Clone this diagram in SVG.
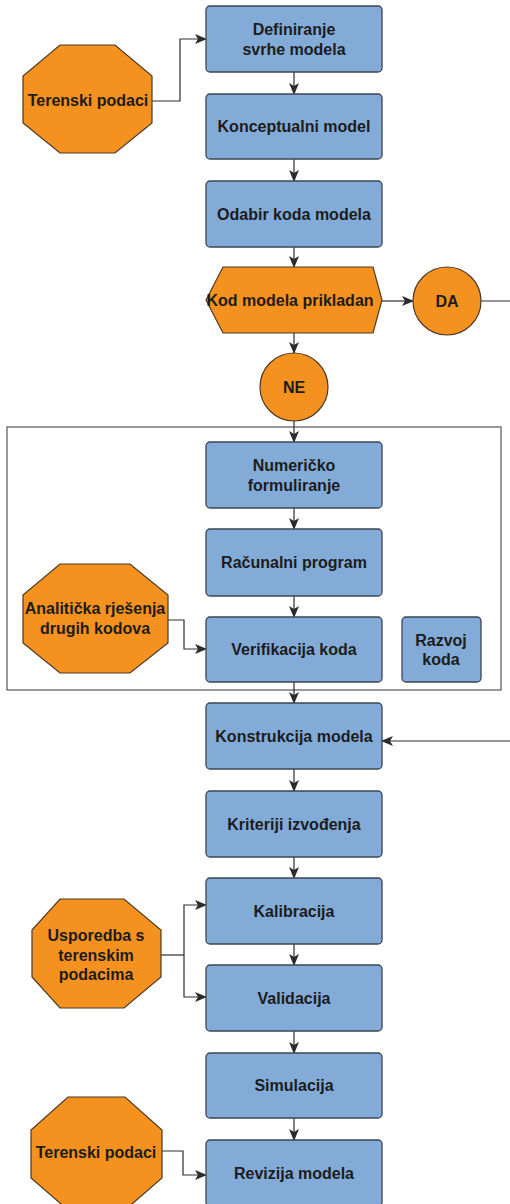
<svg xmlns="http://www.w3.org/2000/svg" width="510" height="1204" viewBox="0 0 510 1204">
<defs>
<marker id="arr" viewBox="0 0 12 10" refX="11" refY="5" markerWidth="12" markerHeight="10" markerUnits="userSpaceOnUse" orient="auto">
<path d="M0,0 L12,5 L0,10 L3,5 Z" fill="#2b2b2b"/>
</marker>
<style>
.box{fill:#83abd8;stroke:#3c4654;stroke-width:1.3}
.org{fill:#f5911e;stroke:#4a3a28;stroke-width:1.2}
.t{font-family:"Liberation Sans",Arial,sans-serif;font-weight:bold;font-size:16px;fill:#1c1c1c;text-anchor:middle}
.c{fill:none;stroke:#2e2e2e;stroke-width:1.2}
.ca{fill:none;stroke:#2e2e2e;stroke-width:1.2;marker-end:url(#arr)}
</style>
</defs>
<rect width="510" height="1204" fill="#ffffff"/>

<g id="container"><rect x="7" y="427" width="494" height="263" fill="none" stroke="#555" stroke-width="1.2"/></g>

<g id="connectors">
<path class="ca" d="M152,101 H180 V39 H206"/>
<path class="ca" d="M294,72 V94"/>
<path class="ca" d="M294,159 V181"/>
<path class="ca" d="M294,247 V267"/>
<path class="ca" d="M382,301 H413"/>
<path class="ca" d="M294,333 V353"/>
<path class="ca" d="M481,301 H516 V741 H382"/>
<path class="ca" d="M294,421 V442"/>
<path class="ca" d="M294,508 V529"/>
<path class="ca" d="M294,596 V617"/>
<path class="ca" d="M168,620 H184 V649 H206"/>
<path class="ca" d="M294,682 V703"/>
<path class="ca" d="M294,769 V791"/>
<path class="ca" d="M294,857 V878"/>
<path class="c" d="M161,955 H184"/>
<path class="ca" d="M184,955 V905 H206"/>
<path class="ca" d="M184,955 V997 H206"/>
<path class="ca" d="M294,944 V965"/>
<path class="ca" d="M294,1031 V1053"/>
<path class="ca" d="M294,1118 V1140"/>
<path class="ca" d="M162,1151 H183 V1175 H206"/>
</g>

<g id="n-teren1"><polygon class="org" points="60,45 115,45 152,76 152,123 115,153 60,153 23,123 23,76"/><text class="t" x="88" y="106">Terenski podaci</text></g>
<g id="n-def"><rect class="box" x="206" y="6" width="176" height="66" rx="4"/><text class="t" x="294" y="35">Definiranje</text><text class="t" x="294" y="55">svrhe modela</text></g>
<g id="n-konc"><rect class="box" x="206" y="94" width="176" height="65" rx="4"/><text class="t" x="294" y="132">Konceptualni model</text></g>
<g id="n-odabir"><rect class="box" x="206" y="181" width="176" height="66" rx="4"/><text class="t" x="294" y="220">Odabir koda modela</text></g>
<g id="n-kod"><polygon class="org" points="223,267 373,267 382,300 373,333 223,333 206,300"/><text class="t" x="290" y="306">Kod modela prikladan</text></g>
<g id="n-da"><circle class="org" cx="447" cy="301" r="34"/><text class="t" x="447" y="307">DA</text></g>
<g id="n-ne"><circle class="org" cx="294" cy="387" r="34"/><text class="t" x="294" y="393">NE</text></g>
<g id="n-num"><rect class="box" x="206" y="442" width="176" height="66" rx="4"/><text class="t" x="294" y="471">Numeričko</text><text class="t" x="294" y="491">formuliranje</text></g>
<g id="n-rac"><rect class="box" x="206" y="529" width="176" height="67" rx="4"/><text class="t" x="294" y="568">Računalni program</text></g>
<g id="n-anal"><polygon class="org" points="60,564 130,564 168,595 168,643 130,673 60,673 23,643 23,595"/><text class="t" x="95" y="614">Analitička rješenja</text><text class="t" x="95" y="634">drugih kodova</text></g>
<g id="n-ver"><rect class="box" x="206" y="617" width="176" height="65" rx="4"/><text class="t" x="294" y="655">Verifikacija koda</text></g>
<g id="n-razvoj"><rect class="box" x="402" y="617" width="79" height="65" rx="4"/><text class="t" x="441" y="646">Razvoj</text><text class="t" x="441" y="665">koda</text></g>
<g id="n-konst"><rect class="box" x="206" y="703" width="176" height="66" rx="4"/><text class="t" x="294" y="742">Konstrukcija modela</text></g>
<g id="n-krit"><rect class="box" x="206" y="791" width="176" height="66" rx="4"/><text class="t" x="294" y="830">Kriteriji izvođenja</text></g>
<g id="n-kal"><rect class="box" x="206" y="878" width="176" height="66" rx="4"/><text class="t" x="294" y="917">Kalibracija</text></g>
<g id="n-usp"><polygon class="org" points="60,899 124,899 161,930 161,977 124,1008 60,1008 32,977 32,930"/><text class="t" x="96" y="941">Usporedba s</text><text class="t" x="96" y="961">terenskim</text><text class="t" x="96" y="980">podacima</text></g>
<g id="n-val"><rect class="box" x="206" y="965" width="176" height="66" rx="4"/><text class="t" x="294" y="1004">Validacija</text></g>
<g id="n-sim"><rect class="box" x="206" y="1053" width="176" height="65" rx="4"/><text class="t" x="294" y="1091">Simulacija</text></g>
<g id="n-teren2"><polygon class="org" points="68,1097 125,1097 162,1130 162,1178 125,1210 68,1210 31,1178 31,1130"/><text class="t" x="96" y="1158">Terenski podaci</text></g>
<g id="n-rev"><rect class="box" x="206" y="1140" width="176" height="66" rx="4"/><text class="t" x="294" y="1179">Revizija modela</text></g>
</svg>
